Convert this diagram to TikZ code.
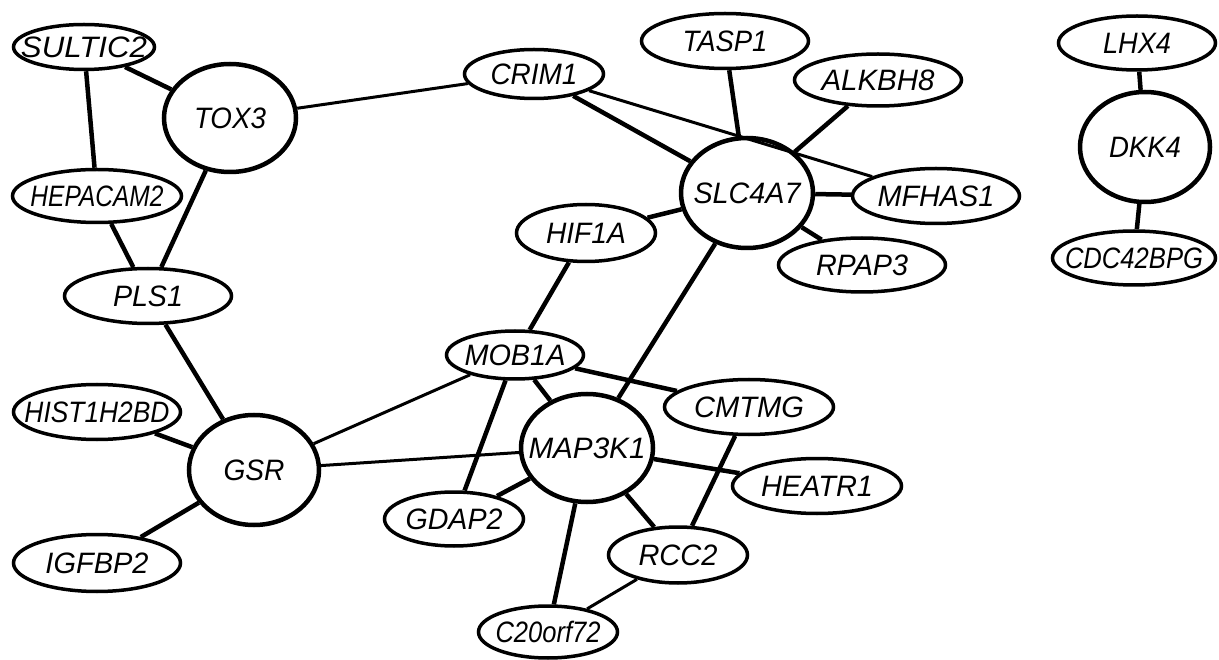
\documentclass[tikz,border=0pt]{standalone}
\usepackage{fontspec}
\setmainfont{Liberation Sans}
\usetikzlibrary{shapes.geometric}
\tikzset{
  gene/.style={ellipse, draw=black, fill=white, line width=3.5pt, inner sep=0pt,
    font=\fontsize{29.5}{32}\selectfont\itshape},
  hub/.style={gene, line width=4.5pt},
  strong/.style={line width=4.5pt},
  weak/.style={line width=3pt},
}
\newcommand{\lbl}[2]{\makebox[0pt]{\resizebox{#1pt}{\height}{#2}}}
\begin{document}
\begin{tikzpicture}[x=1pt,y=-1pt]
\useasboundingbox (0,0) rectangle (1219,660);
\node[gene, minimum width=141pt, minimum height=45pt] (SULTIC2) at (84,47) {\lbl{126}{SULTIC2}};
\node[hub, minimum width=132pt, minimum height=108pt] (TOX3) at (230,118) {\lbl{72}{TOX3}};
\node[gene, minimum width=169pt, minimum height=53pt] (HEPACAM2) at (97,196) {\lbl{133}{HEPACAM2}};
\node[gene, minimum width=167pt, minimum height=55pt] (PLS1) at (148,296) {\lbl{70}{PLS1}};
\node[gene, minimum width=167pt, minimum height=55pt] (HIST1H2BD) at (97,412) {\lbl{145}{HIST1H2BD}};
\node[hub, minimum width=130pt, minimum height=110pt] (GSR) at (254,470) {\lbl{61}{GSR}};
\node[gene, minimum width=167pt, minimum height=57pt] (IGFBP2) at (97,563) {\lbl{103}{IGFBP2}};
\node[gene, minimum width=139pt, minimum height=49pt] (CRIM1) at (534,74) {\lbl{87}{CRIM1}};
\node[gene, minimum width=167pt, minimum height=55pt] (TASP1) at (725,41) {\lbl{85}{TASP1}};
\node[gene, minimum width=167pt, minimum height=52pt] (ALKBH8) at (878,80) {\lbl{113}{ALKBH8}};
\node[hub, minimum width=132pt, minimum height=110pt] (SLC4A7) at (747,193) {\lbl{107}{SLC4A7}};
\node[gene, minimum width=139pt, minimum height=57pt] (HIF1A) at (586,233) {\lbl{80}{HIF1A}};
\node[gene, minimum width=167pt, minimum height=55pt] (MFHAS1) at (936,196) {\lbl{117}{MFHAS1}};
\node[gene, minimum width=167pt, minimum height=54pt] (RPAP3) at (862,265) {\lbl{92}{RPAP3}};
\node[gene, minimum width=137pt, minimum height=48pt] (MOB1A) at (515,355) {\lbl{101}{MOB1A}};
\node[hub, minimum width=132pt, minimum height=108pt] (MAP3K1) at (587,448) {\lbl{117}{MAP3K1}};
\node[gene, minimum width=169pt, minimum height=55pt] (CMTMG) at (749,407) {\lbl{110}{CMTMG}};
\node[gene, minimum width=169pt, minimum height=55pt] (HEATR1) at (817,486) {\lbl{112}{HEATR1}};
\node[gene, minimum width=139pt, minimum height=54pt] (GDAP2) at (454,519) {\lbl{97}{GDAP2}};
\node[gene, minimum width=139pt, minimum height=56pt] (RCC2) at (678,555) {\lbl{79}{RCC2}};
\node[gene, minimum width=139pt, minimum height=52pt] (C20orf72) at (548,632) {\lbl{105}{C20orf72}};
\node[gene, minimum width=157pt, minimum height=54pt] (LHX4) at (1137,43) {\lbl{68}{LHX4}};
\node[hub, minimum width=130pt, minimum height=110pt] (DKK4) at (1145,147) {\lbl{72}{DKK4}};
\node[gene, minimum width=163pt, minimum height=54pt] (CDC42BPG) at (1134,258) {\lbl{138}{CDC42BPG}};
% connectors
\draw[strong] (SULTIC2) -- (TOX3);
\draw[strong] (SULTIC2) -- (HEPACAM2);
\draw[strong] (TOX3) -- (PLS1);
\draw[weak] (TOX3) -- (CRIM1);
\draw[strong] (HEPACAM2) -- (PLS1);
\draw[strong] (PLS1) -- (GSR);
\draw[strong] (HIST1H2BD) -- (GSR);
\draw[strong] (IGFBP2) -- (GSR);
\draw[weak] (GSR) -- (MOB1A);
\draw[weak] (GSR) -- (MAP3K1);
\draw[strong] (CRIM1) -- (SLC4A7);
\draw[weak] (CRIM1) -- (MFHAS1);
\draw[strong] (TASP1) -- (SLC4A7);
\draw[strong] (ALKBH8) -- (SLC4A7);
\draw[strong] (SLC4A7) -- (MFHAS1);
\draw[strong] (SLC4A7) -- (RPAP3);
\draw[strong] (SLC4A7) -- (HIF1A);
\draw[strong] (SLC4A7) -- (MAP3K1);
\draw[strong] (HIF1A) -- (MOB1A);
\draw[strong] (MOB1A) -- (MAP3K1);
\draw[strong] (MOB1A) -- (GDAP2);
\draw[strong] (MOB1A) -- (CMTMG);
\draw[strong] (MAP3K1) -- (GDAP2);
\draw[strong] (MAP3K1) -- (HEATR1);
\draw[strong] (MAP3K1) -- (RCC2);
\draw[strong] (MAP3K1) -- (C20orf72);
\draw[strong] (CMTMG) -- (RCC2);
\draw[weak] (RCC2) -- (C20orf72);
\draw[strong] (LHX4) -- (DKK4);
\draw[strong] (DKK4) -- (CDC42BPG);
\end{tikzpicture}
\end{document}
